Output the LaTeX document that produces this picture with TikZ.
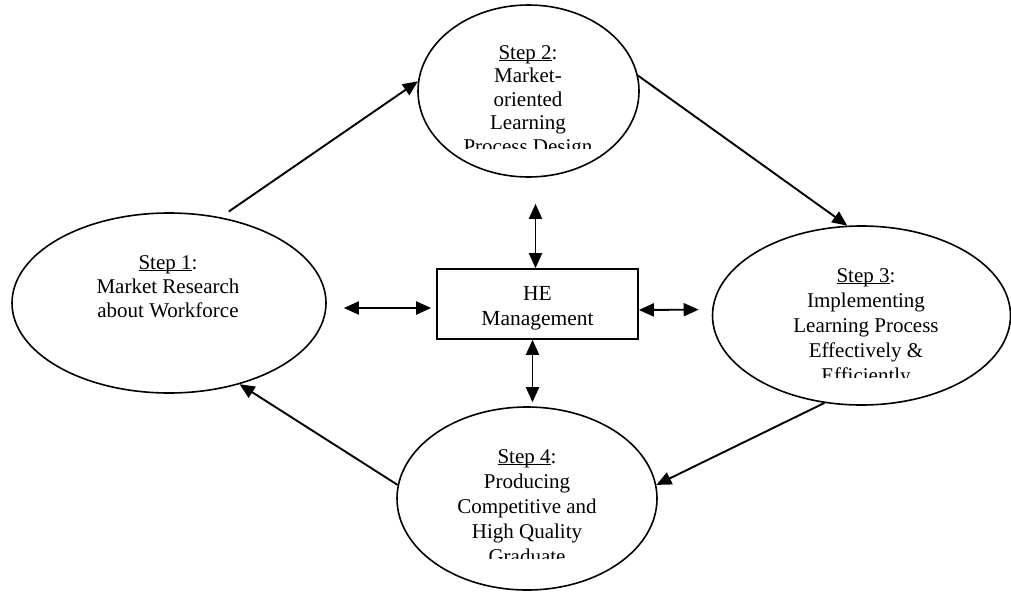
\documentclass[tikz,border=0pt]{standalone}
\usepackage{fontspec}
\setmainfont{Liberation Serif}
\usetikzlibrary{arrows.meta,shapes.geometric}
\newsavebox\ulbox
\newcommand\stepul[1]{\sbox\ulbox{#1}\rlap{\rule[-2pt]{\wd\ulbox}{0.9pt}}\usebox\ulbox}
\begin{document}
\begin{tikzpicture}[x=1pt,y=-1pt,
  stepshape/.style={ellipse, draw, line width=1.6pt, inner sep=0pt},
  txt/.style={align=center, inner sep=0pt, font=\fontsize{21}{24.3}\selectfont},
  widetxt/.style={txt, font=\fontsize{21}{25}\selectfont},
  box/.style={rectangle, draw, line width=1.6pt, minimum width=201pt, minimum height=70pt, inner sep=0pt},
  arr/.style={line width=1.9pt, -{Triangle[length=15pt,width=13pt]}},
  dbl/.style={line width=1.9pt, {Triangle[length=15pt,width=13pt]}-{Triangle[length=15pt,width=13pt]}}]
\useasboundingbox (0,0) rectangle (1011,592);

% shapes
\node[stepshape, minimum width=314pt, minimum height=180pt] (s1) at (169,303) {};
\node[stepshape, minimum width=221pt, minimum height=172pt] (s2) at (528.5,91) {};
\node[stepshape, minimum width=298pt, minimum height=179pt] (s3) at (861.5,315.5) {};
\node[stepshape, minimum width=260pt, minimum height=183pt] (s4) at (527,498.5) {};
\node[box] (he) at (537.5,304) {};

% texts
\node[txt, anchor=north] (t1) at (168,255) {\stepul{Step 1}:\\Market Research\\about Workforce};
\begin{scope}
  \clip (400,0) rectangle (660,148);
  \node[txt, anchor=north, font=\fontsize{21}{23.6}\selectfont] (t2) at (528,45) {\stepul{Step 2}:\\Market-\\oriented\\Learning\\Process Design};
\end{scope}
\begin{scope}
  \clip (715,230) rectangle (1011,377);
  \node[widetxt, anchor=north] (t3) at (866,268) {\stepul{Step 3}:\\Implementing\\Learning Process\\Effectively \&\\Efficiently};
\end{scope}
\begin{scope}
  \clip (400,410) rectangle (660,558);
  \node[widetxt, anchor=north] (t4) at (527,449) {\stepul{Step 4}:\\Producing\\Competitive and\\High Quality\\Graduate};
\end{scope}
\node[txt, anchor=north, font=\fontsize{21.5}{25}\selectfont] (het) at (537.5,286) {HE\\Management};

% cycle arrows
\draw[arr, shorten <=10pt] (s1.59) -- (s2.175);
\draw[arr] (s2.8) -- (s3.99);
\draw[arr] (s3.247) -- (s4.6);
\draw[arr] (s4.174) -- (s1.311);

% double arrows to HE Management
\draw[dbl, shorten >=26pt] ([xshift=-2pt]he.north) -- ([xshift=-2pt]he.north |- s2.south);
\draw[dbl, shorten >=4pt] ([xshift=-5pt]he.south) -- ([xshift=-5pt]he.south |- s4.north);
\draw[dbl, shorten <=5pt, shorten >=17pt] ([yshift=-4pt]he.west) -- ([yshift=-5pt]s1.east);
\draw[dbl, shorten >=13pt] ([yshift=-6pt]he.east) -- ([yshift=6pt]s3.west);
\end{tikzpicture}
\end{document}
